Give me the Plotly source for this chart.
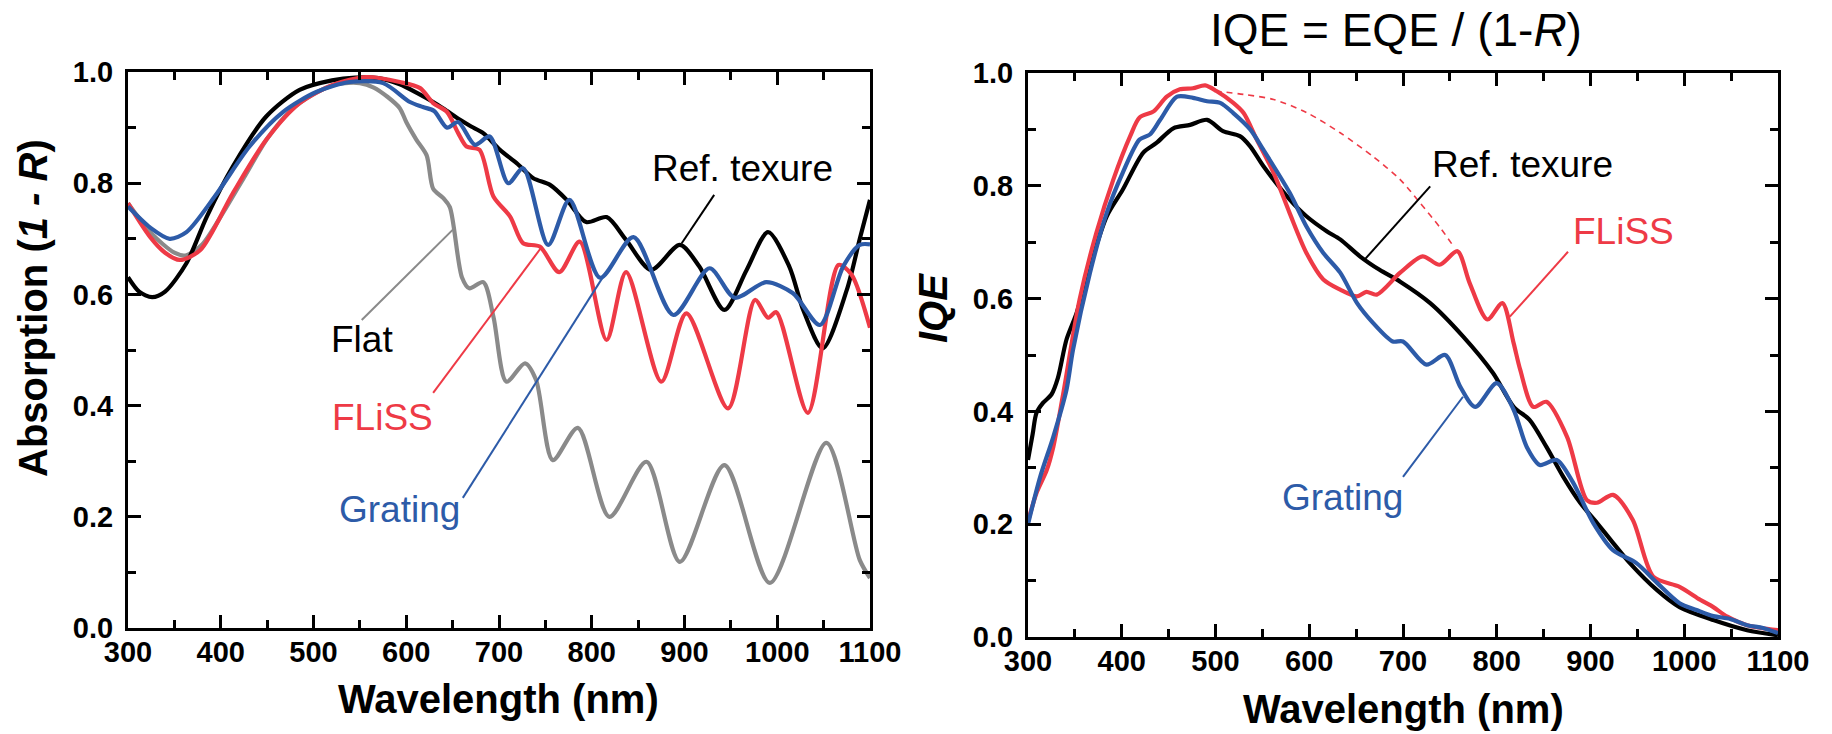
import plotly.graph_objects as go

# ---------------- Data: left panel, Absorption (1 - R) ----------------
ref_abs_wl = [300, 312, 326, 340, 363, 385, 413, 449, 485, 520, 545, 570, 593, 612, 629, 642, 658, 670, 683, 701, 719, 737, 755, 773, 794, 816, 837, 864, 895, 916, 943, 967, 990, 1013, 1028, 1049, 1075, 1089, 1100]
ref_abs = [0.631, 0.605, 0.595, 0.605, 0.656, 0.74, 0.83, 0.92, 0.968, 0.985, 0.99, 0.989, 0.978, 0.962, 0.946, 0.932, 0.914, 0.902, 0.89, 0.86, 0.836, 0.809, 0.797, 0.77, 0.73, 0.739, 0.698, 0.644, 0.689, 0.65, 0.572, 0.644, 0.712, 0.65, 0.572, 0.503, 0.608, 0.70, 0.77]

fliss_abs_wl = [300, 324, 340, 356, 378, 413, 449, 485, 521, 557, 593, 615, 629, 644, 656, 665, 679, 694, 712, 726, 744, 765, 787, 816, 837, 875, 902, 947, 976, 990, 999, 1033, 1066, 1080, 1100]
fliss_abs = [0.764, 0.703, 0.675, 0.662, 0.68, 0.782, 0.878, 0.944, 0.977, 0.991, 0.982, 0.971, 0.944, 0.928, 0.89, 0.866, 0.86, 0.776, 0.74, 0.692, 0.686, 0.64, 0.695, 0.518, 0.64, 0.443, 0.566, 0.395, 0.59, 0.558, 0.568, 0.387, 0.653, 0.636, 0.54]

grating_abs_wl = [300, 324, 345, 363, 396, 431, 467, 503, 539, 575, 604, 618, 630, 644, 656, 674, 690, 710, 726, 753, 776, 809, 845, 888, 927, 954, 988, 1017, 1046, 1071, 1089, 1100]
grating_abs = [0.758, 0.72, 0.70, 0.712, 0.782, 0.866, 0.928, 0.964, 0.982, 0.98, 0.946, 0.937, 0.93, 0.90, 0.91, 0.869, 0.884, 0.80, 0.827, 0.689, 0.77, 0.63, 0.703, 0.563, 0.647, 0.594, 0.622, 0.602, 0.545, 0.65, 0.689, 0.69]

flat_abs_wl = [300, 325, 350, 362, 380, 400, 425, 450, 475, 500, 525, 550, 565, 580, 593, 600, 611, 622, 629, 640, 647, 660, 668, 683, 694, 708, 728, 740, 758, 785, 819, 859, 895, 943, 992, 1053, 1089, 1100]
flat_abs = [0.764, 0.71, 0.675, 0.67, 0.69, 0.74, 0.81, 0.88, 0.93, 0.96, 0.978, 0.98, 0.972, 0.955, 0.935, 0.91, 0.878, 0.85, 0.79, 0.773, 0.757, 0.631, 0.611, 0.622, 0.56, 0.443, 0.476, 0.446, 0.302, 0.36, 0.2, 0.299, 0.119, 0.293, 0.081, 0.333, 0.122, 0.09]

# ---------------- Data: right panel, IQE ----------------
ref_iqe_wl = [300, 305, 309, 316, 325, 332, 341, 352, 366, 384, 401, 423, 437, 455, 473, 491, 508, 526, 537, 551, 579, 597, 619, 633, 654, 675, 697, 729, 764, 796, 818, 835, 853, 871, 889, 907, 924, 942, 971, 995, 1031, 1067, 1100]
ref_iqe = [0.314, 0.36, 0.397, 0.415, 0.43, 0.46, 0.527, 0.575, 0.657, 0.746, 0.793, 0.859, 0.876, 0.902, 0.908, 0.917, 0.897, 0.888, 0.87, 0.835, 0.776, 0.746, 0.719, 0.705, 0.675, 0.651, 0.63, 0.592, 0.533, 0.468, 0.408, 0.385, 0.337, 0.284, 0.238, 0.202, 0.167, 0.131, 0.083, 0.053, 0.03, 0.012, 0.003]

fliss_iqe_wl = [300, 309, 320, 327, 337, 355, 373, 391, 409, 419, 434, 448, 462, 476, 489, 501, 519, 530, 544, 562, 579, 597, 615, 633, 651, 661, 672, 697, 721, 739, 758, 771, 790, 806, 818, 825, 839, 853, 875, 896, 907, 924, 945, 967, 995, 1017, 1031, 1046, 1067, 1100]
fliss_iqe = [0.205, 0.255, 0.296, 0.337, 0.426, 0.598, 0.717, 0.811, 0.888, 0.921, 0.932, 0.958, 0.971, 0.973, 0.978, 0.968, 0.947, 0.929, 0.882, 0.823, 0.752, 0.681, 0.634, 0.616, 0.604, 0.612, 0.607, 0.646, 0.675, 0.66, 0.684, 0.628, 0.563, 0.592, 0.521, 0.474, 0.408, 0.417, 0.355, 0.243, 0.238, 0.252, 0.208, 0.107, 0.089, 0.066, 0.053, 0.036, 0.021, 0.012]

grating_iqe_wl = [300, 313, 327, 341, 348, 366, 384, 401, 419, 430, 441, 459, 476, 491, 505, 519, 537, 551, 579, 597, 615, 633, 651, 668, 689, 700, 725, 745, 761, 777, 800, 818, 832, 846, 864, 881, 903, 924, 949, 971, 995, 1013, 1031, 1049, 1067, 1084, 1100]
grating_iqe = [0.2, 0.284, 0.355, 0.438, 0.509, 0.645, 0.752, 0.823, 0.882, 0.891, 0.917, 0.958, 0.956, 0.95, 0.947, 0.929, 0.90, 0.864, 0.788, 0.728, 0.681, 0.646, 0.592, 0.557, 0.524, 0.524, 0.483, 0.50, 0.444, 0.408, 0.45, 0.403, 0.337, 0.305, 0.314, 0.275, 0.202, 0.154, 0.131, 0.096, 0.06, 0.048, 0.037, 0.032, 0.021, 0.016, 0.007]

fliss_guide_wl = [500, 530, 562, 597, 633, 668, 697, 718, 740, 755]
fliss_guide = [0.968, 0.962, 0.953, 0.93, 0.894, 0.852, 0.811, 0.77, 0.725, 0.69]

x_ticks = [300, 400, 500, 600, 700, 800, 900, 1000, 1100]
y_ticks = [0.0, 0.2, 0.4, 0.6, 0.8, 1.0]

BLACK = "#000000"
RED = "#EE3A46"
BLUE = "#2D5BA8"
GRAY = "#8A8A8A"
FONT = "Liberation Sans, Arial, sans-serif"
W, H = 1832, 734
LW = 4.2

fig = go.Figure()


def add_line(x, y, color, xa, ya, width=LW, dash="solid"):
    fig.add_trace(go.Scatter(x=x, y=y, mode="lines", xaxis=xa, yaxis=ya,
                             line=dict(color=color, width=width, shape="spline", smoothing=0.8, dash=dash),
                             showlegend=False, hoverinfo="skip"))


# left panel (drawing order: gray, black, red, blue)
add_line(flat_abs_wl, flat_abs, GRAY, "x", "y")
add_line(ref_abs_wl, ref_abs, BLACK, "x", "y")
add_line(fliss_abs_wl, fliss_abs, RED, "x", "y")
add_line(grating_abs_wl, grating_abs, BLUE, "x", "y")

# right panel
add_line(fliss_guide_wl, fliss_guide, RED, "x2", "y2", width=1.6, dash="6px,5px")
add_line(ref_iqe_wl, ref_iqe, BLACK, "x2", "y2")
add_line(fliss_iqe_wl, fliss_iqe, RED, "x2", "y2")
add_line(grating_iqe_wl, grating_iqe, BLUE, "x2", "y2")


def axis(domain, anchor, is_x):
    d = dict(domain=domain, anchor=anchor, showgrid=False, zeroline=False, automargin=False,
             showline=True, linecolor="black", linewidth=3, mirror="ticks",
             ticks="inside", ticklen=13, tickwidth=3, tickcolor="black",
             tickfont=dict(family=FONT, size=29, color="black", weight="bold"))
    if is_x:
        d.update(range=[300, 1100], tickvals=x_ticks, ticklabelstandoff=-4,
                 minor=dict(dtick=50, tick0=300, ticks="inside", ticklen=8, tickwidth=2.5, tickcolor="black"))
    else:
        d.update(range=[0, 1.0], tickvals=y_ticks, tickformat=".1f", ticklabelstandoff=6,
                 minor=dict(dtick=0.1, tick0=0, ticks="inside", ticklen=8, tickwidth=2.5, tickcolor="black"))
    return d


fig.update_layout(
    template="none",
    width=W, height=H, margin=dict(l=0, r=0, t=0, b=0, autoexpand=False),
    paper_bgcolor="white", plot_bgcolor="white",
    xaxis=axis([128 / W, 870 / W], "y", True),
    yaxis=axis([1 - 628 / H, 1 - 72 / H], "x", False),
    xaxis2=axis([1028 / W, 1778 / W], "y2", True),
    yaxis2=axis([1 - 637 / H, 1 - 73 / H], "x2", False),
)

ann = []


def text(t, x, y, xref, yref, size, color="black", angle=0, bold=False):
    ann.append(dict(text=t, x=x, y=y, xref=xref, yref=yref, showarrow=False,
                    xanchor="center", yanchor="middle", textangle=angle,
                    font=dict(family=FONT, size=size, color=color, weight="bold" if bold else "normal")))


def leader(x0, y0, x1, y1, xref, yref, color):
    fig.add_shape(type="line", x0=x0, y0=y0, x1=x1, y1=y1, xref=xref, yref=yref,
                  line=dict(color=color, width=2))


# left panel labels
text("Ref. texure", 962, 0.827, "x", "y", 37)
leader(932, 0.779, 897, 0.692, "x", "y", BLACK)
text("Flat", 552, 0.518, "x", "y", 37)
leader(552, 0.554, 650, 0.716, "x", "y", GRAY)
text("FLiSS", 574, 0.378, "x", "y", 37, RED)
leader(629, 0.423, 745, 0.683, "x", "y", RED)
text("Grating", 593, 0.214, "x", "y", 37, BLUE)
leader(661, 0.234, 812, 0.631, "x", "y", BLUE)

# right panel labels
text("Ref. texure", 827, 0.838, "x2", "y2", 37)
leader(729, 0.799, 659, 0.669, "x2", "y2", BLACK)
text("FLiSS", 935, 0.719, "x2", "y2", 37, RED)
leader(876, 0.683, 814, 0.568, "x2", "y2", RED)
text("Grating", 635, 0.248, "x2", "y2", 37, BLUE)
leader(700, 0.284, 764, 0.426, "x2", "y2", BLUE)

# titles
text("IQE = EQE / (1-<i>R</i>)", 1396 / W, 1 - 30 / H, "paper", "paper", 46)
text("Wavelength (nm)", 499 / W, 1 - 699 / H, "paper", "paper", 40, bold=True)
text("Wavelength (nm)", 1403 / W, 1 - 709 / H, "paper", "paper", 40, bold=True)
text("Absorption (<i>1 - R</i>)", 33 / W, 1 - 308 / H, "paper", "paper", 40, angle=-90, bold=True)
text("<i>IQE</i>", 933 / W, 1 - 308 / H, "paper", "paper", 40, angle=-90, bold=True)

fig.update_layout(annotations=ann)
fig.write_html("out.html")
